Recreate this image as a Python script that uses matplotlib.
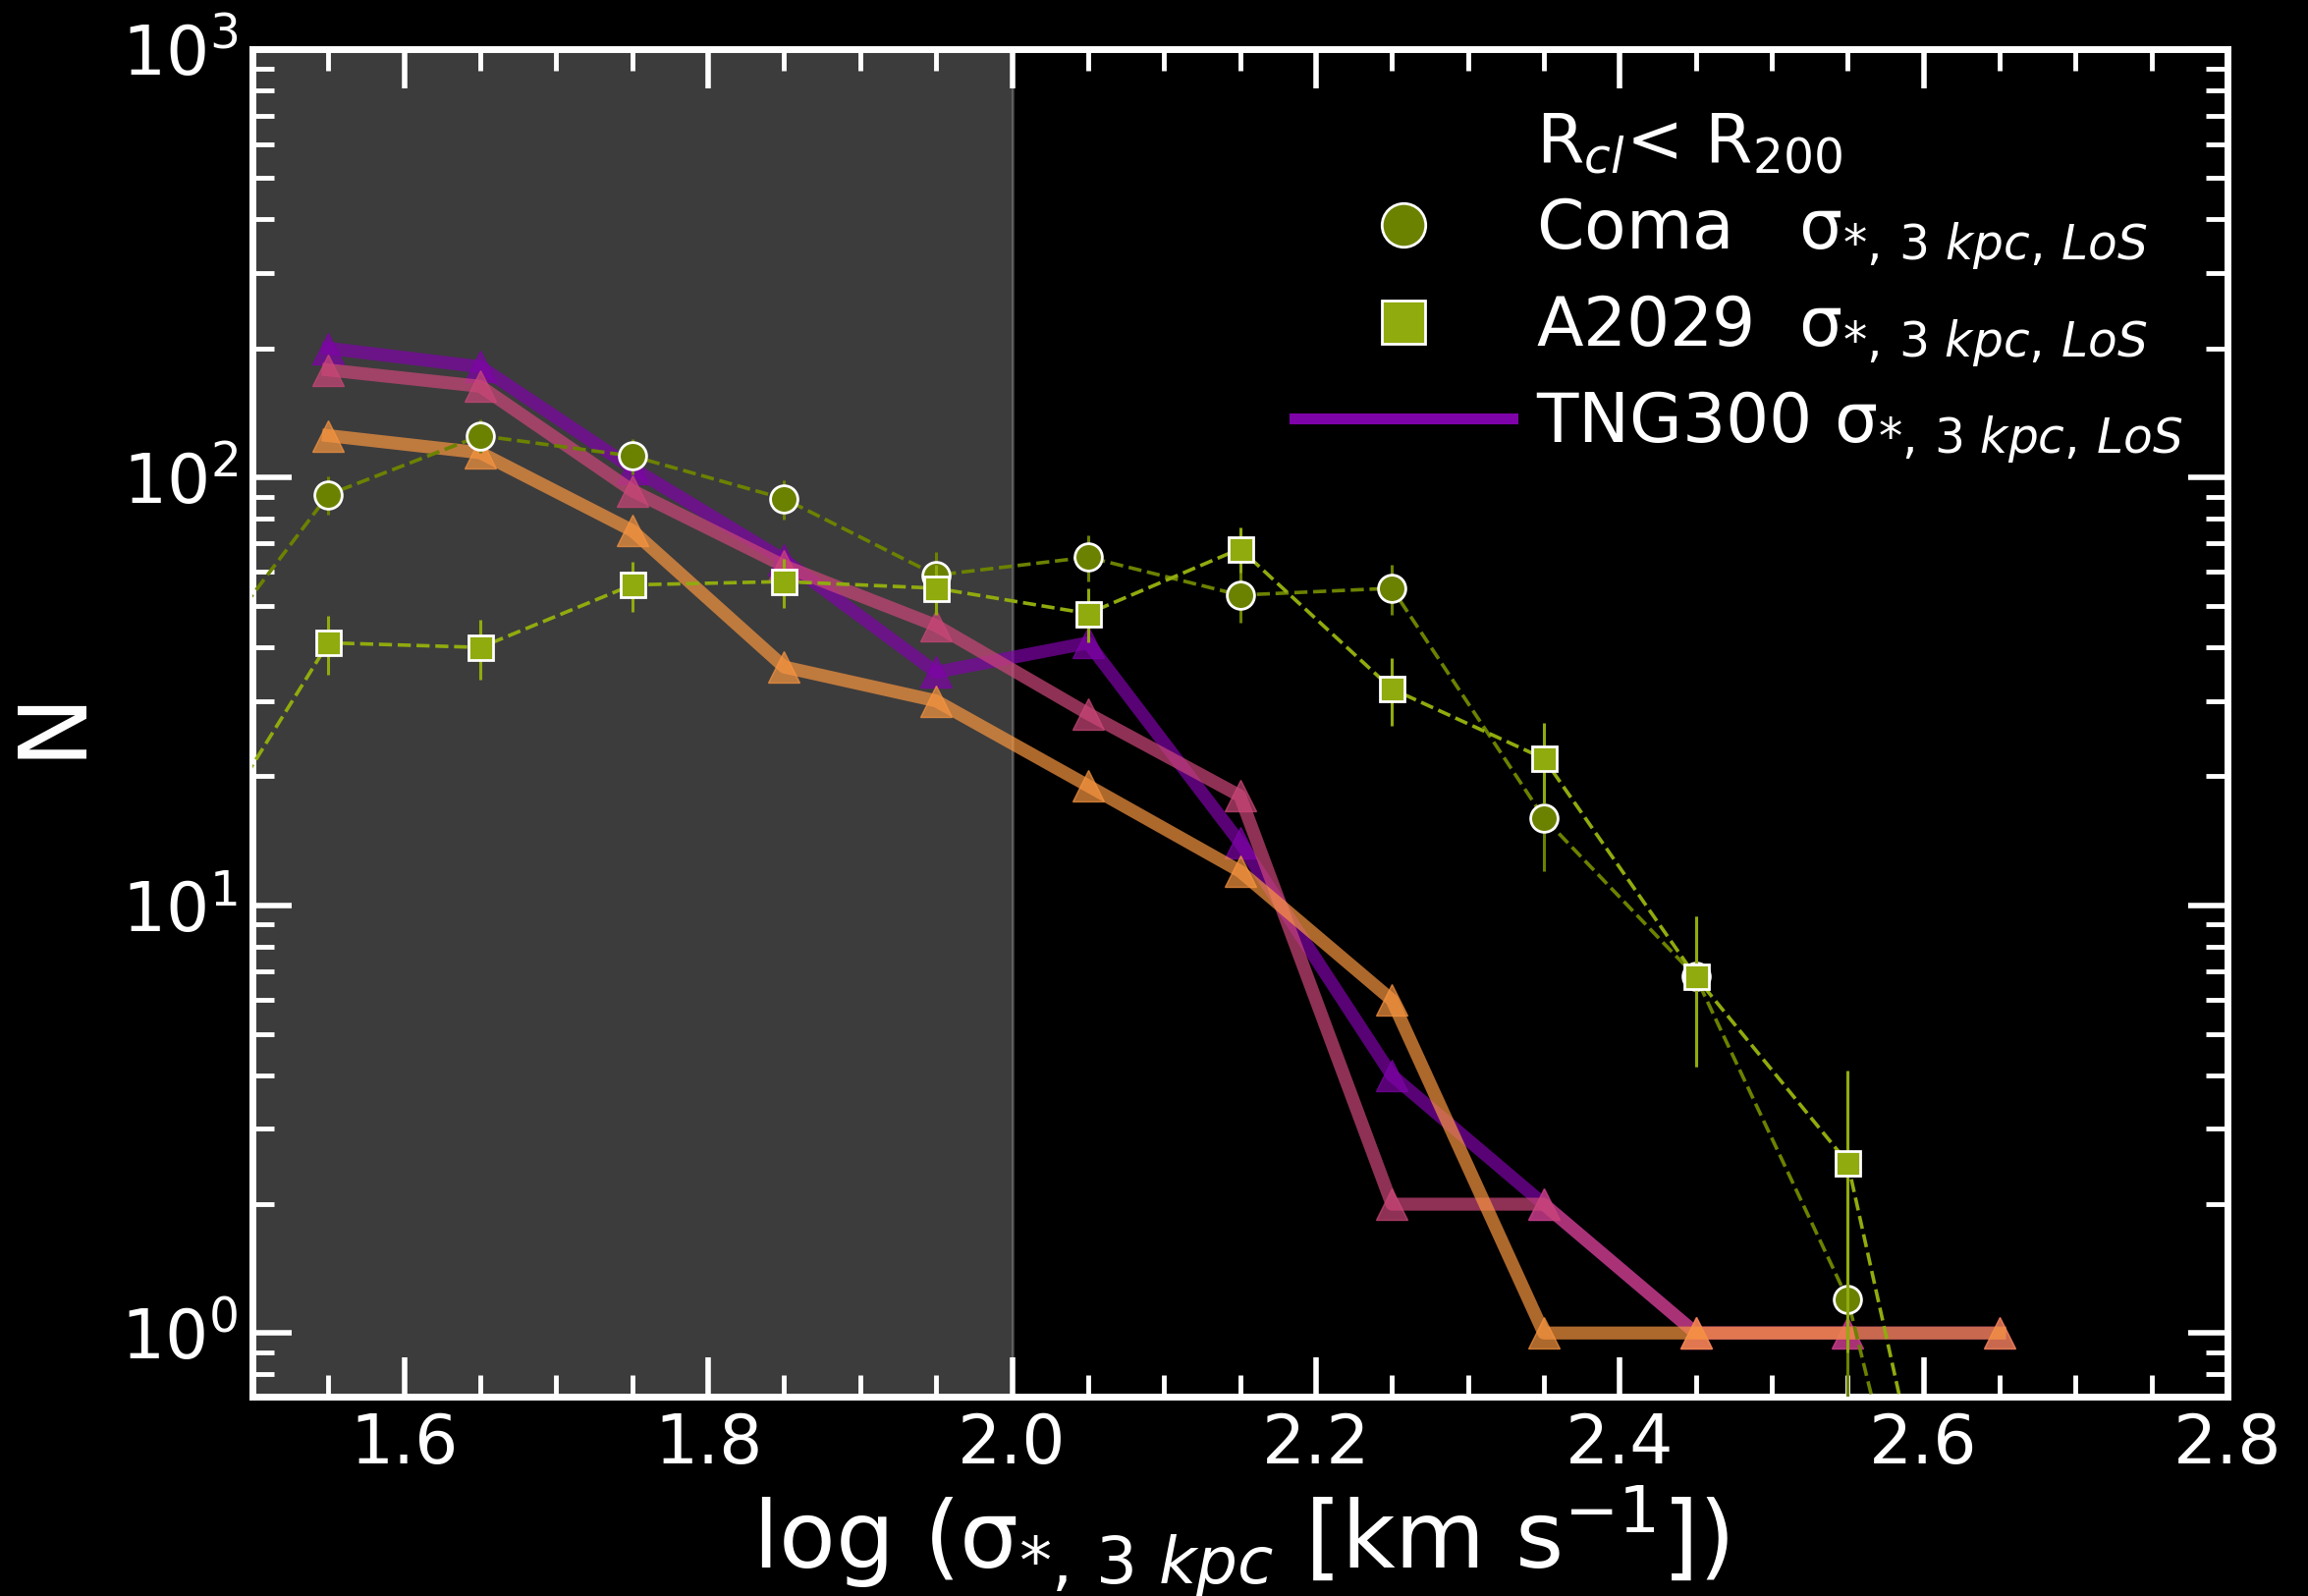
import numpy as np
import matplotlib
matplotlib.use("Agg")
import matplotlib.pyplot as plt
from matplotlib.lines import Line2D
from matplotlib.ticker import MultipleLocator, LogLocator, FormatStrFormatter, NullFormatter

# ---------------- data ----------------
tng_purple_x = [1.55, 1.65, 1.75, 1.85, 1.95, 2.05, 2.15, 2.25, 2.35, 2.45, 2.55, 2.65]
tng_purple_y = [200, 181, 105, 64, 35, 41, 14, 4, 2, 1, 1, 1]

tng_pink_x = [1.55, 1.65, 1.75, 1.85, 1.95, 2.05, 2.15, 2.25, 2.35, 2.45, 2.55]
tng_pink_y = [178, 163, 93, 62, 45, 28, 18, 2, 2, 1, 1]

tng_orange_x = [1.55, 1.65, 1.75, 1.85, 1.95, 2.05, 2.15, 2.25, 2.35, 2.45, 2.65]
tng_orange_y = [125, 114, 75, 36, 30, 19, 12, 6, 1, 1, 1]

obs_x = [1.45, 1.55, 1.65, 1.75, 1.85, 1.95, 2.05, 2.15, 2.25, 2.35, 2.45, 2.55, 2.65]
coma_y = [31, 91, 125, 112, 89, 59, 65, 53, 55, 16, 6.8, 1.2, 0.044]
coma_err = [5.6, 9.5, 11.2, 10.6, 9.4, 7.7, 8.1, 7.3, 7.4, 4.0, 2.6, 1.1, 0.0]
a2029_y = [11, 41, 40, 56, 57, 55, 48, 68, 32, 22, 6.8, 2.5, 0.063]
a2029_err = [3.3, 6.4, 6.3, 7.5, 7.5, 7.4, 6.9, 8.2, 5.7, 4.7, 2.6, 1.6, 0.0]

xticks = [1.6, 1.8, 2.0, 2.2, 2.4, 2.6, 2.8]

label_title = 'R$_{cl}$< R$_{200}$'
label_coma = 'Coma   σ$_{*,\\,3\\ kpc,\\,LoS}$'
label_a2029 = 'A2029  σ$_{*,\\,3\\ kpc,\\,LoS}$'
label_tng = 'TNG300 σ$_{*,\\,3\\ kpc,\\,LoS}$'
xlabel = 'log (σ$_{*,\\,3\\ kpc}$ [km s$^{-1}$])'
ylabel = 'N'

# ---------------- style ----------------
plt.rcParams['font.family'] = ['DejaVu Sans']
plt.rcParams['mathtext.fontset'] = 'dejavusans'

cmap = plt.get_cmap('plasma')
c_purple = cmap(0.25)
c_pink = cmap(0.5)
c_orange = cmap(0.75)
c_coma = '#6B8200'
c_a2029 = '#90AB0E'

fig = plt.figure(figsize=(23.5, 16.25), dpi=100, facecolor='black')
ax = fig.add_axes([0.1094, 0.1249, 0.8557, 0.8443], facecolor='black')

ax.axvspan(1.5, 2.0, facecolor='white', edgecolor='white', alpha=0.24, lw=2, zorder=0)

tri_kw = dict(marker='^', ms=23, lw=9.5, alpha=0.7)
ax.plot(tng_purple_x, tng_purple_y, color=c_purple, zorder=2, **tri_kw)
ax.plot(tng_pink_x, tng_pink_y, color=c_pink, zorder=2, **tri_kw)
ax.plot(tng_orange_x, tng_orange_y, color=c_orange, zorder=2, **tri_kw)

def lower(vals, errs):
    return [min(e, v * 0.999) for v, e in zip(vals, errs)]

ax.errorbar(obs_x, coma_y, yerr=[lower(coma_y, coma_err), coma_err], fmt='o', ls='--',
            color=c_coma, mfc=c_coma, mec='white', mew=2, ms=20, lw=2.6,
            elinewidth=2.2, capsize=0, zorder=3)
ax.errorbar(obs_x, a2029_y, yerr=[lower(a2029_y, a2029_err), a2029_err], fmt='s', ls='--',
            color=c_a2029, mfc=c_a2029, mec='white', mew=2, ms=18, lw=2.6,
            elinewidth=2.2, capsize=0, zorder=4)

ax.set_yscale('log')
ax.set_xlim(1.5, 2.8)
ax.set_ylim(0.71, 1000)

ax.set_xticks(xticks)
ax.xaxis.set_major_formatter(FormatStrFormatter('%.1f'))
ax.xaxis.set_minor_locator(MultipleLocator(0.05))
ax.yaxis.set_major_locator(LogLocator(base=10, numticks=10))
ax.yaxis.set_minor_locator(LogLocator(base=10, subs=np.arange(2, 10), numticks=20))
ax.yaxis.set_minor_formatter(NullFormatter())

ax.tick_params(which='both', direction='in', top=True, right=True, colors='white',
               labelsize=50, pad=11)
ax.tick_params(which='major', length=29, width=4)
ax.tick_params(which='minor', length=16, width=3.5)
for s in ax.spines.values():
    s.set_color('white')
    s.set_linewidth(5)

ax.set_xlabel(xlabel, fontsize=68, color='white', labelpad=4)
ax.set_ylabel(ylabel, fontsize=70, color='white', labelpad=17)

handles = [
    Line2D([], [], ls='none', marker='none'),
    Line2D([], [], ls='none', marker='o', ms=32, mfc=c_coma, mec='white', mew=2),
    Line2D([], [], ls='none', marker='s', ms=31, mfc=c_a2029, mec='white', mew=2),
    Line2D([], [], color=c_purple, lw=8),
]
labels = [label_title, label_coma, label_a2029, label_tng]
leg = ax.legend(handles, labels, loc='upper right', bbox_to_anchor=(1.0, 0.988),
                frameon=False, fontsize=50,
                handlelength=3.2, handletextpad=0.35, labelspacing=0.3,
                borderaxespad=0.25, borderpad=0.4)
for t in leg.get_texts():
    t.set_color('white')

fig.savefig('out.png', dpi=100, facecolor='black')
